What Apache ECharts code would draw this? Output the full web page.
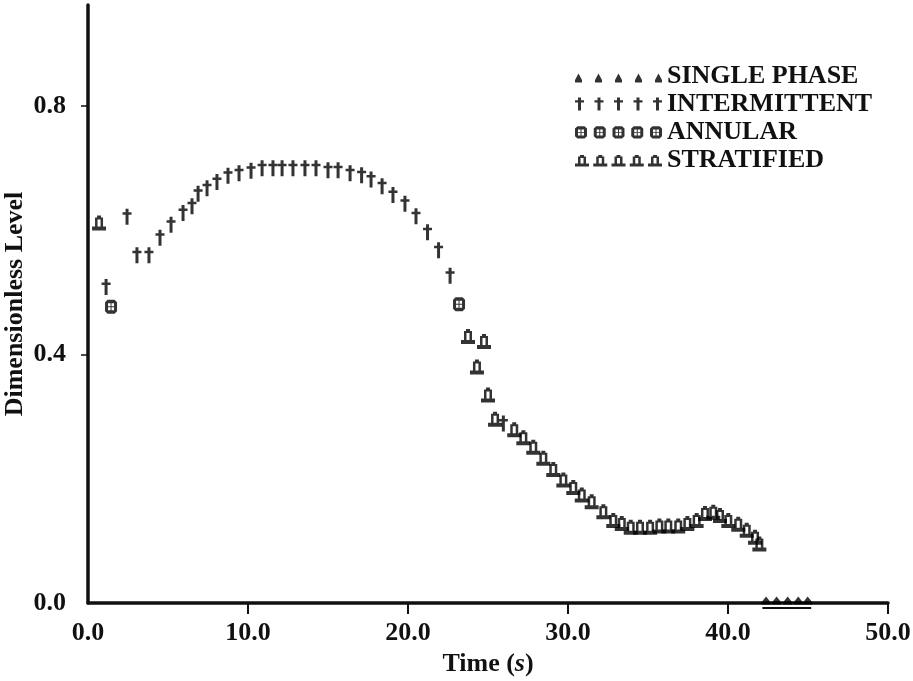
<!DOCTYPE html>
<html>
<head>
<meta charset="utf-8">
<script src="https://cdn.jsdelivr.net/npm/echarts@6/dist/echarts.min.js"></script>
<style>html,body{margin:0;padding:0;background:#fff}#c{width:913px;height:681px}</style>
</head>
<body>
<div id="c"></div>
<script>
// ---- data (time s, dimensionless level) ----
const singlePhaseX = [42.38, 43.04, 43.73, 44.39, 44.98];
const singlePhaseY = [0.004, 0.004, 0.004, 0.004, 0.004];

const intermittentX = [1.13, 2.44, 3.06, 3.81, 4.5, 5.19, 5.94, 6.5, 6.88, 7.44, 8.06, 8.75, 9.44, 10.19,
  10.88, 11.56, 12.13, 12.81, 13.56, 14.25, 15.0, 15.63, 16.38, 17.1, 17.69, 18.38, 19.06, 19.81,
  20.5, 21.22, 21.91, 22.63, 25.96];
const intermittentY = [0.509, 0.622, 0.560, 0.560, 0.588, 0.609, 0.628, 0.639, 0.659, 0.668, 0.678, 0.688, 0.692, 0.696,
  0.700, 0.700, 0.700, 0.700, 0.700, 0.700, 0.697, 0.697, 0.692, 0.689, 0.682, 0.671, 0.657, 0.643,
  0.623, 0.597, 0.568, 0.527, 0.289];

const annularX = [1.44, 23.19];
const annularY = [0.477, 0.481];

const stratifiedX = [0.69, 23.75, 24.31, 24.75, 25.0, 25.44, 26.64, 27.21, 27.83, 28.46, 29.08, 29.71,
  30.33, 30.86, 31.48, 32.21, 32.83, 33.36, 33.92, 34.5, 35.13, 35.71, 36.27, 36.89, 37.46, 38.04,
  38.56, 39.08, 39.5, 40.02, 40.64, 41.17, 41.69, 41.96];
const stratifiedY = [0.612, 0.429, 0.380, 0.421, 0.335, 0.296, 0.279, 0.266, 0.251, 0.233, 0.215, 0.198,
  0.186, 0.174, 0.163, 0.147, 0.133, 0.128, 0.122, 0.122, 0.122, 0.124, 0.124, 0.124, 0.128, 0.133,
  0.144, 0.146, 0.141, 0.133, 0.127, 0.117, 0.106, 0.095];

const singleUnderlineX = [42.15, 45.2];
const singleUnderlineY = [-0.008, -0.008];

const xTicks = [0, 10, 20, 30, 40, 50];
const yTicks = [0, 0.4, 0.8];

const seriesNames = ['SINGLE PHASE', 'INTERMITTENT', 'ANNULAR', 'STRATIFIED'];

// ---- symbol shapes ----
const shp = {
  single: o => `M${o+3.5},0L${o+7},5V7H${o}V5Z`,
  dagger: o => `M${o+3},0H${o+6}V16H${o+3}Z M${o},3.5H${o+9}V6H${o}Z`,
  annular: o => `M${o+2.5},0H${o+9.5}L${o+12},2.5V11.5L${o+9.5},14H${o+2.5}L${o},11.5V2.5Z M${o+3},3.5V6.5H${o+5.5}V3.5Z M${o+6.5},3.5V6.5H${o+9}V3.5Z M${o+3},7.5V10.5H${o+5.5}V7.5Z M${o+6.5},7.5V10.5H${o+9}V7.5Z`,
  bell: o => `M${o+5},0H${o+9}V2H${o+11}V11H${o+14}V15H${o}V11H${o+3}V2H${o+5}Z M${o+5.5},4V11H${o+8.5}V4Z`
};
function rep(fn, dx, pre){ let s=[]; for(let i=0;i<5;i++) s.push(fn(i*dx)); return 'path://'+(pre||'')+s.join(' '); }

const zip = (a,b) => a.map((v,i)=>[v,b[i]]);
const FONT = '"Liberation Serif", "Times New Roman", serif';

const chart = echarts.init(document.getElementById('c'), null, {renderer:'canvas'});
chart.setOption({
  animation:false,
  backgroundColor:'#fff',
  grid:{left:88, right:25, top:5, bottom:78, containLabel:false, outerBoundsMode:'none'},
  legend:{
    orient:'vertical', left:570, top:58,
    itemWidth:87, itemHeight:13, itemGap:2, symbolKeepAspect:false,
    textStyle:{fontFamily:FONT, fontWeight:'bold', fontSize:26, color:'#111', lineHeight:24},
    data:[
      {name:seriesNames[0], icon:rep(shp.single, 20, 'M0,-3 L0.01,-3 Z ')},
      {name:seriesNames[1], icon:rep(shp.dagger, 19.5)},
      {name:seriesNames[2], icon:rep(shp.annular, 18.75, 'M0,-1 L0.01,-1 Z ')},
      {name:seriesNames[3], icon:rep(shp.bell, 18.25, 'M0,-2 L0.01,-2 Z ')}
    ]
  },
  xAxis:{
    type:'value', min:0, max:50, interval:10,
    name:'Time ({i|s})', nameLocation:'middle', nameGap:45,
    nameTextStyle:{fontFamily:FONT, fontWeight:'bold', fontSize:26, color:'#111',
      rich:{i:{fontFamily:FONT, fontWeight:'bold', fontStyle:'italic', fontSize:26, color:'#111'}}},
    axisLine:{lineStyle:{color:'#111', width:3.5}},
    axisTick:{show:true, inside:false, length:11, lineStyle:{color:'#111', width:2}, customValues:xTicks.slice(1)},
    axisLabel:{fontFamily:FONT, fontWeight:'bold', fontSize:26, color:'#111', margin:17,
      customValues:xTicks, formatter:v=>v.toFixed(1)},
    splitLine:{show:false}
  },
  yAxis:{
    type:'value', min:0, max:0.963,
    name:'Dimensionless Level', nameLocation:'middle', nameGap:60, nameRotate:90, nameMoveOverlap:false,
    nameTextStyle:{fontFamily:FONT, fontWeight:'bold', fontSize:26, color:'#111'},
    axisLine:{show:true, lineStyle:{color:'#111', width:3.5}},
    axisTick:{show:true, length:7, lineStyle:{color:'#111', width:1.5}, customValues:yTicks.slice(1)},
    axisLabel:{fontFamily:FONT, fontWeight:'bold', fontSize:26, color:'#111', margin:22,
      customValues:yTicks, formatter:v=>v.toFixed(1)},
    splitLine:{show:false}
  },
  series:[
    {name:seriesNames[0], type:'scatter', data:zip(singlePhaseX, singlePhaseY),
      symbol:'path://'+shp.single(0), symbolSize:[9,8], itemStyle:{color:'#000'}, z:5},
    {name:'_underline', type:'line', data:zip(singleUnderlineX, singleUnderlineY), clip:false,
      symbol:'none', lineStyle:{color:'#111', width:2}, silent:true, z:4},
    {name:seriesNames[1], type:'scatter', data:zip(intermittentX, intermittentY),
      symbol:'path://'+shp.dagger(0), symbolSize:[9,16], itemStyle:{color:'#000'}},
    {name:seriesNames[2], type:'scatter', data:zip(annularX, annularY),
      symbol:'path://'+shp.annular(0), symbolSize:[12,14], itemStyle:{color:'#000'}},
    {name:seriesNames[3], type:'scatter', data:zip(stratifiedX, stratifiedY),
      symbol:'path://'+shp.bell(0), symbolSize:[14,15], itemStyle:{color:'#000'}}
  ]
});
</script>
</body>
</html>
